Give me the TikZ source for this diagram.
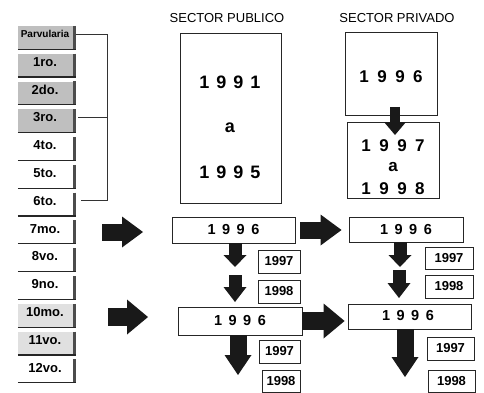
\documentclass[tikz,border=0pt]{standalone}
\usepackage{fontspec}
\setmainfont{Liberation Sans}
\usetikzlibrary{arrows.meta}
\newcommand\yrs[5]{#2\kern#1#3\kern#1#4\kern#1#5}
\begin{document}
\begin{tikzpicture}[x=1pt,y=-1pt,
  frame/.style={draw=black!85, line width=0.9pt, inner sep=0pt, fill=white},
  rowbox/.style={inner sep=0pt, minimum width=56pt, minimum height=23pt, fill=#1},
  rowlab/.style={font=\bfseries\fontsize{#1}{#1}\selectfont, inner sep=0pt},
  headtxt/.style={font=\fontsize{13}{13}\selectfont, inner sep=0pt},
  bigyr/.style={font=\bfseries\fontsize{18}{18}\selectfont, inner sep=0pt},
  midyr/.style={font=\bfseries\fontsize{17}{17}\selectfont, inner sep=0pt},
  rowyr/.style={font=\bfseries\fontsize{14.5}{14.5}\selectfont, inner sep=0pt},
  smallyr/.style={font=\bfseries\fontsize{13}{13}\selectfont, inner sep=0pt},
  bracket/.style={draw=black!80, line width=0.8pt},
  fatA/.style={draw=black!90, line width=17pt, -{Triangle[length=21pt,width=31pt,line width=0pt]}},
  fatB/.style={draw=black!90, line width=18pt, -{Triangle[length=21pt,width=35pt,line width=0pt]}},
  downA/.style={draw=black!90, line width=13pt, -{Triangle[length=12pt,width=23pt,line width=0pt]}},
  downB/.style={draw=black!90, line width=13pt, -{Triangle[length=15pt,width=23pt,line width=0pt]}},
  downC/.style={draw=black!90, line width=17pt, -{Triangle[length=20pt,width=27pt,line width=0pt]}},
  downD/.style={draw=black!90, line width=10pt, -{Triangle[length=13pt,width=22pt,line width=0pt]}}
]
\useasboundingbox[fill=white] (0,0) rectangle (484,393);

% left column of school years
\foreach \t/\f/\s [count=\i from 0] in {Parvularia/black!25/10, 1ro./black!25/13, 2do./black!25/13, 3ro./black!25/13, 4to./white/13, 5to./white/13, 6to./white/13, 7mo./white/13, 8vo./white/13, 9no./white/13, 10mo./black!12/13, 11vo./black!12/13, 12vo./white/13}{
  \pgfmathsetmacro\b{49+27.8*\i}
  \node[rowbox=\f] (r\i) at (46,\b-11.5) {};
  \node[rowlab=\s] (l\i) at (45,\b-15) {\t};
  \draw[line width=3pt, black!70] (r\i.north east) -- (r\i.south east);
  \draw[line width=1.3pt, black!85] (r\i.south west) -- ([xshift=1.5pt]r\i.south east);
}

% bracket
\coordinate (bx) at (107,0);
\path ([xshift=2pt]r0.east) coordinate (b0);
\path ([xshift=4pt]r3.east) coordinate (b3);
\path ([xshift=7pt]r6.east) coordinate (b6);
\draw[bracket] (b0 |- l0) -- (bx |- l0) -- (bx |- l6) -- (b6 |- l6);
\draw[bracket] (b3 |- l3) -- (bx |- l3);

% headers
\node[headtxt] (hpub) at (227,18) {SECTOR PUBLICO};
\node[headtxt] (hpriv) at (397,18) {SECTOR PRIVADO};

% public big box
\node[frame, minimum width=101pt, minimum height=170pt] (pub) at (230.5,118) {};
\node[bigyr] (pa) at (230,82) {\yrs{7pt}1991};
\node[bigyr] (pb) at (230,128) {a};
\node[bigyr] (pc) at (230,172) {\yrs{7pt}1995};

% private boxes
\node[frame, minimum width=92pt, minimum height=83pt] (pv1) at (391,73.5) {};
\node[midyr] (pv1t) at (391,77) {\yrs{8.5pt}1996};
\node[frame, minimum width=92pt, minimum height=76pt] (pv2) at (393,160) {};
\node[midyr] (pv2a) at (393,146) {\yrs{8.5pt}1997};
\node[midyr] (pv2b) at (393,167) {a};
\node[midyr] (pv2c) at (393,189) {\yrs{8.5pt}1998};
\coordinate (d0s) at (395,107);
\coordinate (d0e) at (395,135);
\draw[downD] (d0s) -- (d0e);

% row boxes
\node[frame, minimum width=123pt, minimum height=26pt] (pr1) at (233.5,230) {};
\node[rowyr] at (pr1) {\yrs{6.5pt}1996};
\node[frame, minimum width=124pt, minimum height=28pt] (pr2) at (240,321) {};
\node[rowyr] at (pr2) {\yrs{6.5pt}1996};
\node[frame, minimum width=114pt, minimum height=25pt] (qr1) at (406,229.5) {};
\node[rowyr] at (qr1) {\yrs{6.5pt}1996};
\node[frame, minimum width=123pt, minimum height=25pt] (qr2) at (409.5,316.5) {};
\node[rowyr] at (408,315.5) {\yrs{6.5pt}1996};

% small year boxes
\node[frame, smallyr, minimum width=42pt, minimum height=23pt] (p97a) at (279,261.5) {1997};
\node[frame, smallyr, minimum width=42pt, minimum height=23pt] (p98a) at (279,291.5) {1998};
\node[frame, smallyr, minimum width=41pt, minimum height=23pt] (p97b) at (279.5,351.5) {1997};
\node[frame, smallyr, minimum width=38pt, minimum height=22pt] (p98b) at (281,381) {1998};
\node[frame, smallyr, minimum width=48pt, minimum height=22pt] (q97a) at (449,258) {1997};
\node[frame, smallyr, minimum width=48pt, minimum height=23pt] (q98a) at (449,286.5) {1998};
\node[frame, smallyr, minimum width=47pt, minimum height=23pt] (q97b) at (450.5,348.5) {1997};
\node[frame, smallyr, minimum width=47pt, minimum height=22pt] (q98b) at (451.5,381) {1998};

% down arrows, public
\coordinate (pd1e) at (235,267);
\coordinate (pd2s) at (235,275);
\coordinate (pd2e) at (235,302);
\coordinate (pd3e) at (238,375);
\draw[downA] ([xshift=1.5pt]pr1.south) -- (pd1e);
\draw[downB] (pd2s) -- (pd2e);
\draw[downC] ([xshift=-2pt]pr2.south) -- (pd3e);

% down arrows, private
\coordinate (qd1e) at (400,267);
\coordinate (qd2s) at (399,270);
\coordinate (qd2e) at (399,298);
\coordinate (qd3e) at (405,377);
\draw[downA] ([xshift=-6pt]qr1.south) -- (qd1e);
\draw[downB] (qd2s) -- (qd2e);
\draw[downC] ([xshift=-4.5pt]qr2.south) -- (qd3e);

% fat right arrows
\coordinate (la1s) at (102,232);
\coordinate (la1e) at (143,232);
\coordinate (la2s) at (108,317);
\coordinate (la2e) at (148,317);
\draw[fatA] (la1s) -- (la1e);
\draw[fatB] (la2s) -- (la2e);
\draw[fatA, shorten <=5pt, shorten >=7pt] (pr1.east) -- (qr1.west |- pr1.east);
\draw[fatB, shorten >=3pt] (pr2.east) -- (qr2.west |- pr2.east);
\end{tikzpicture}
\end{document}
